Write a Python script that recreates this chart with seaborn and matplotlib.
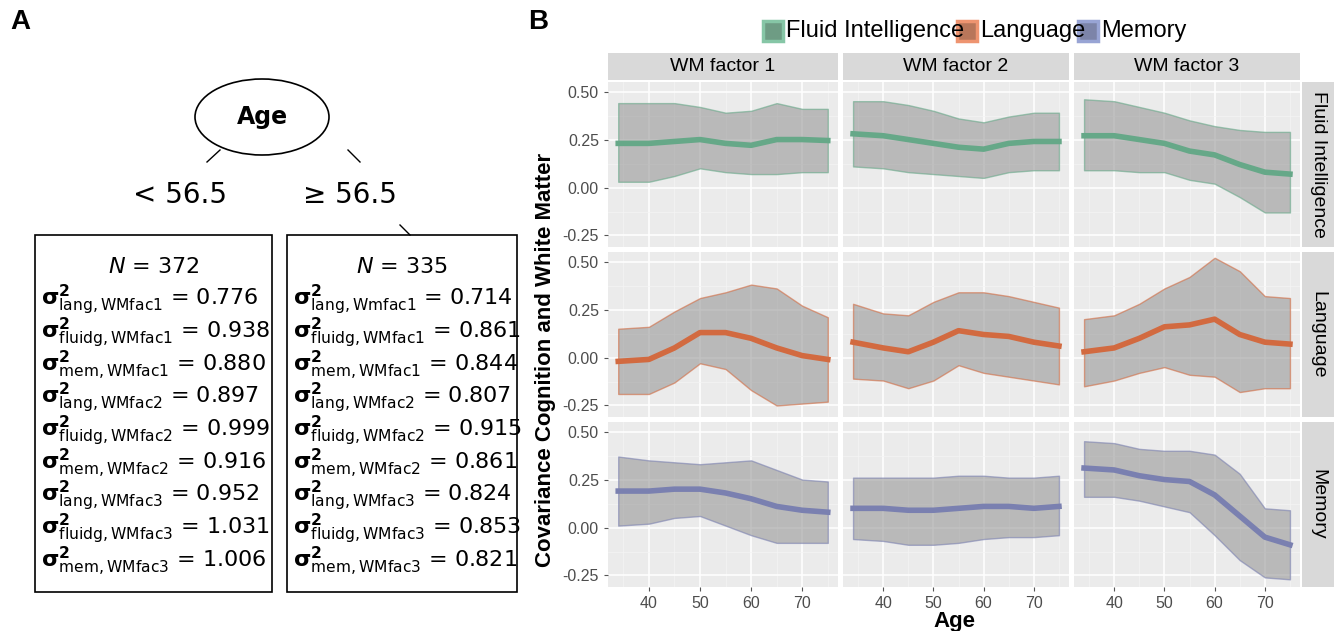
import matplotlib
matplotlib.use("Agg")
import matplotlib.pyplot as plt
from matplotlib.patches import Ellipse, Rectangle
import seaborn as sns
import pandas as pd
import numpy as np

ages = [34, 40, 45, 50, 55, 60, 65, 70, 75]
cognition = ["Fluid Intelligence", "Language", "Memory"]
factors = ["WM factor 1", "WM factor 2", "WM factor 3"]
colors = {"Fluid Intelligence": "#66a888", "Language": "#d26a40", "Memory": "#7a80b0"}
leg_face = {"Fluid Intelligence": "#6e9c84", "Language": "#b8765a", "Memory": "#7c84a8"}
leg_edge = {"Fluid Intelligence": "#86c6a6", "Language": "#ee9470", "Memory": "#98a4d4"}

fi_mean = [[0.23,0.23,0.24,0.25,0.23,0.22,0.25,0.25,0.245],
           [0.28,0.27,0.25,0.23,0.21,0.20,0.23,0.24,0.24],
           [0.27,0.27,0.25,0.23,0.19,0.17,0.12,0.08,0.07]]
fi_up = [[0.44,0.44,0.44,0.42,0.39,0.40,0.44,0.41,0.41],
         [0.45,0.45,0.43,0.40,0.36,0.34,0.37,0.39,0.39],
         [0.46,0.45,0.42,0.39,0.35,0.32,0.30,0.29,0.29]]
fi_lo = [[0.03,0.03,0.06,0.10,0.08,0.07,0.07,0.08,0.08],
         [0.11,0.10,0.08,0.07,0.06,0.05,0.08,0.09,0.09],
         [0.09,0.09,0.08,0.08,0.04,0.02,-0.05,-0.13,-0.13]]
la_mean = [[-0.02,-0.01,0.05,0.13,0.13,0.10,0.05,0.01,-0.01],
           [0.08,0.05,0.03,0.08,0.14,0.12,0.11,0.08,0.06],
           [0.03,0.05,0.10,0.16,0.17,0.20,0.12,0.08,0.07]]
la_up = [[0.15,0.16,0.24,0.31,0.34,0.38,0.36,0.27,0.21],
         [0.28,0.23,0.22,0.29,0.34,0.34,0.32,0.29,0.26],
         [0.20,0.22,0.28,0.36,0.42,0.52,0.45,0.32,0.31]]
la_lo = [[-0.19,-0.19,-0.13,-0.03,-0.06,-0.17,-0.25,-0.24,-0.23],
         [-0.11,-0.12,-0.16,-0.12,-0.04,-0.08,-0.10,-0.12,-0.14],
         [-0.15,-0.12,-0.08,-0.05,-0.09,-0.10,-0.18,-0.16,-0.16]]
me_mean = [[0.19,0.19,0.20,0.20,0.18,0.15,0.11,0.09,0.08],
           [0.10,0.10,0.09,0.09,0.10,0.11,0.11,0.10,0.11],
           [0.31,0.30,0.27,0.25,0.24,0.17,0.06,-0.05,-0.09]]
me_up = [[0.37,0.35,0.34,0.33,0.34,0.35,0.30,0.25,0.24],
         [0.26,0.26,0.26,0.26,0.27,0.27,0.26,0.26,0.27],
         [0.45,0.44,0.41,0.40,0.40,0.38,0.28,0.10,0.09]]
me_lo = [[0.01,0.02,0.05,0.06,0.01,-0.04,-0.08,-0.08,-0.08],
         [-0.06,-0.07,-0.09,-0.09,-0.08,-0.06,-0.05,-0.05,-0.04],
         [0.16,0.16,0.14,0.11,0.08,-0.04,-0.17,-0.26,-0.27]]

means = [fi_mean, la_mean, me_mean]
ups = [fi_up, la_up, me_up]
los = [fi_lo, la_lo, me_lo]

left_labels = [("lang,WMfac1", "0.776"), ("fluidg,WMfac1", "0.938"), ("mem,WMfac1", "0.880"),
               ("lang,WMfac2", "0.897"), ("fluidg,WMfac2", "0.999"), ("mem,WMfac2", "0.916"),
               ("lang,WMfac3", "0.952"), ("fluidg,WMfac3", "1.031"), ("mem,WMfac3", "1.006")]
right_labels = [("lang,Wmfac1", "0.714"), ("fluidg,WMfac1", "0.861"), ("mem,WMfac1", "0.844"),
                ("lang,WMfac2", "0.807"), ("fluidg,WMfac2", "0.915"), ("mem,WMfac2", "0.861"),
                ("lang,WMfac3", "0.824"), ("fluidg,WMfac3", "0.853"), ("mem,WMfac3", "0.821")]

W, H = 1338, 631
fig = plt.figure(figsize=(W/100, H/100), dpi=100)
SANS = "Liberation Sans"

def ax_px(x0, y0, x1, y1):
    return fig.add_axes([x0/W, 1-y1/H, (x1-x0)/W, (y1-y0)/H])

# ---------- Panel A ----------
axA = ax_px(0, 0, 530, H)
axA.set_xlim(0, 530); axA.set_ylim(H, 0); axA.axis("off")
axA.text(10, 22, "A", fontsize=20, fontweight="bold", va="center", family=SANS)
axA.add_patch(Ellipse((262, 117), 134, 76, fill=False, lw=1.2))
axA.text(262, 117, "Age", fontsize=17, fontweight="bold", ha="center", va="center")
axA.plot([220, 207], [150, 162], color="k", lw=1)
axA.plot([348, 360], [150, 162], color="k", lw=1)
axA.plot([400, 410], [225, 235], color="k", lw=1)
axA.text(180, 195, "< 56.5", fontsize=20, ha="center", va="center")
axA.text(350, 195, "≥ 56.5", fontsize=20, ha="center", va="center")
for (bx0, bx1, n, labs) in [(35, 272, "372", left_labels), (287, 517, "335", right_labels)]:
    axA.add_patch(Rectangle((bx0, 235), bx1-bx0, 357, fill=False, lw=1.2))
    axA.text((bx0+bx1)/2, 267, r"$N$ = " + n, fontsize=16, ha="center", va="center")
    for i, (sub, val) in enumerate(labs):
        axA.text(bx0 + 6, 300 + i*32.7,
                 r"$\mathbf{σ}^{\mathbf{2}}_{\mathrm{" + sub + r"}}$" + " = " + val,
                 fontsize=16, ha="left", va="center")

# ---------- Panel B ----------
fig.text(528/W, 1-22/H, "B", fontsize=20, fontweight="bold", va="center", family=SANS)
cols_x = [(608, 838), (843, 1069), (1074, 1300)]
rows_y = [(82, 247), (252, 417), (422, 587)]
for r, cog in enumerate(cognition):
    for c, fac in enumerate(factors):
        x0, x1 = cols_x[c]; y0, y1 = rows_y[r]
        ax = ax_px(x0, y0, x1, y1)
        ax.set_facecolor("#ebebeb")
        ax.fill_between(ages, los[r][c], ups[r][c], color="#999999", alpha=0.6,
                        edgecolor=colors[cog], lw=1, zorder=2)
        df = pd.DataFrame({"Age": ages, "v": means[r][c]})
        sns.lineplot(data=df, x="Age", y="v", ax=ax, color=colors[cog], lw=4, zorder=3)
        ax.set_xlim(32, 77); ax.set_ylim(-0.31, 0.55)
        ax.set_xticks([40, 50, 60, 70]); ax.set_xticks([35, 45, 55, 65, 75], minor=True)
        ax.set_yticks([-0.25, 0, 0.25, 0.5])
        ax.set_yticks([-0.125, 0.125, 0.375], minor=True)
        ax.grid(True, which="major", color="white", lw=1.1, zorder=0)
        ax.grid(True, which="minor", color="#f5f5f5", lw=0.5, zorder=0)
        ax.set_axisbelow(True)
        for s in ax.spines.values(): s.set_visible(False)
        ax.tick_params(which="both", length=3, color="#555555", labelsize=11.5, labelcolor="#4d4d4d")
        ax.tick_params(which="minor", length=0)
        ax.set_xlabel(""); ax.set_ylabel("")
        if c != 0: ax.set_yticklabels([]); ax.tick_params(axis="y", length=0)
        else: ax.set_yticklabels(["-0.25", "0.00", "0.25", "0.50"], family=SANS)
        if r != 2: ax.set_xticklabels([]); ax.tick_params(axis="x", length=0)
        else: ax.set_xticklabels(["40", "50", "60", "70"], family=SANS)
        if r == 0:
            sax = ax_px(x0, 53, x1, 80)
            sax.set_facecolor("#d9d9d9"); sax.set_xticks([]); sax.set_yticks([])
            for s in sax.spines.values(): s.set_visible(False)
            sax.text(0.5, 0.5, fac, ha="center", va="center", fontsize=14, family=SANS,
                     transform=sax.transAxes)
        if c == 2:
            sax = ax_px(1302, y0, 1334, y1)
            sax.set_facecolor("#d9d9d9"); sax.set_xticks([]); sax.set_yticks([])
            for s in sax.spines.values(): s.set_visible(False)
            sax.text(0.5, 0.5, cog, ha="center", va="center", fontsize=14, rotation=-90,
                     family=SANS, transform=sax.transAxes)

fig.text(954/W, 1-621/H, "Age", fontsize=16, fontweight="bold", ha="center", va="center", family=SANS)
fig.text(546/W, 1-360/H, "Covariance Cognition and White Matter", fontsize=16,
         fontweight="bold", ha="center", va="center", rotation=90, family=SANS)

# legend
lx = [(763, "Fluid Intelligence"), (957, "Language"), (1078, "Memory")]
for x, name in lx:
    fig.patches.append(Rectangle((x/W, 1-41/H), 20/W, 20/H, transform=fig.transFigure,
                                 facecolor=leg_face[name], edgecolor=leg_edge[name], lw=2.5))
    fig.text((x+23)/W, 1-31/H, name, fontsize=17, va="center", ha="left", family=SANS)

fig.savefig("out.png", dpi=100)
